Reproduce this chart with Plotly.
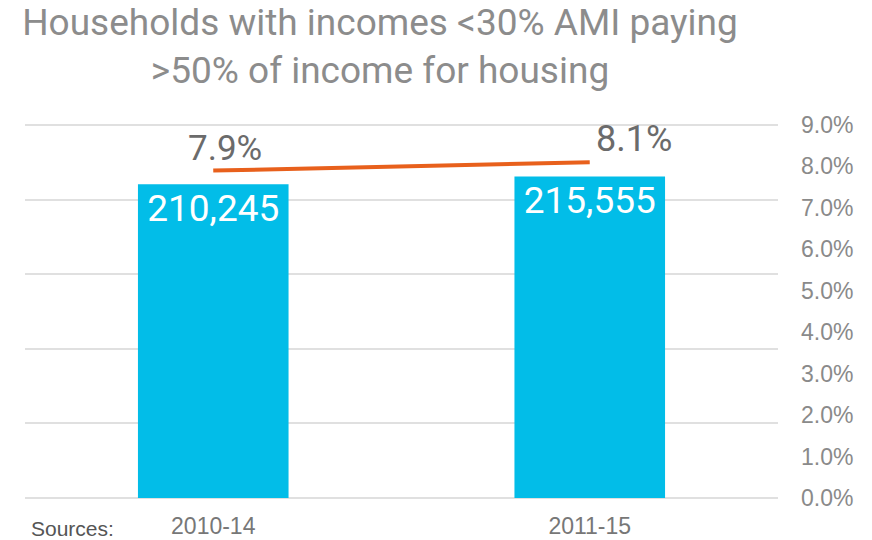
import plotly.graph_objects as go

categories = ["2010-14", "2011-15"]
households = [210245, 215555]
household_labels = ["210,245", "215,555"]
share = [0.079, 0.081]
share_labels = ["7.9%", "8.1%"]
count_ticks = [0, 50000, 100000, 150000, 200000, 250000]
pct_ticks = [0, 0.01, 0.02, 0.03, 0.04, 0.05, 0.06, 0.07, 0.08, 0.09]
pct_tick_text = ["0.0%", "1.0%", "2.0%", "3.0%", "4.0%", "5.0%", "6.0%", "7.0%", "8.0%", "9.0%"]

W, H = 864, 532  # page body adds an 8px offset
L, R, T, B = 17, 94, 114, 39
PAD = 2000  # small range padding so the edge gridlines are drawn

fig = go.Figure()
fig.add_trace(go.Bar(
    x=categories, y=households, text=household_labels,
    textposition="inside", insidetextanchor="end",
    textfont=dict(family="Roboto", size=37, color="white"),
    marker=dict(color="#02BDE8", line=dict(width=0)),
    cliponaxis=False, showlegend=False, hoverinfo="skip",
))
fig.add_trace(go.Scatter(
    x=categories, y=share, yaxis="y2", mode="lines",
    line=dict(color="#E8601C", width=4),
    showlegend=False, hoverinfo="skip",
))
fig.add_annotation(x=categories[0], y=share[0], xref="x", yref="y2", text=share_labels[0],
                   showarrow=False, xanchor="center", yanchor="bottom", xshift=12, yshift=0,
                   font=dict(family="Roboto", size=35, color="#6b6b6b"))
fig.add_annotation(x=categories[1], y=share[1], xref="x", yref="y2", text=share_labels[1],
                   showarrow=False, xanchor="left", yanchor="bottom", xshift=4, yshift=0,
                   font=dict(family="Roboto", size=36, color="#6b6b6b"))
fig.add_annotation(x=4/753, y=-27/379, xref="paper", yref="paper", text="Sources:",
                   showarrow=False, xanchor="left", yanchor="middle",
                   font=dict(family="Liberation Sans", size=21, color="#555555"))

fig.update_layout(
    width=W, height=H,
    margin=dict(l=L, r=R, t=T, b=B, autoexpand=False),
    paper_bgcolor="white", plot_bgcolor="white",
    bargap=0.6,
    title=dict(text="Households with incomes <30% AMI paying<br>>50% of income for housing",
               x=372/W, xanchor="center", y=1 - 27/H, yanchor="top",
               font=dict(family="Roboto", size=37, color="#8c8c8c")),
    xaxis=dict(showgrid=False, showline=False, ticks="", automargin=False,
               tickfont=dict(family="Liberation Sans", size=23, color="#777777"),
               ticklabelstandoff=9),
    yaxis=dict(range=[-PAD, 250000 + PAD], tickvals=count_ticks,
               showticklabels=False, showgrid=True,
               gridcolor="#e0e0e0", gridwidth=1.5, zeroline=False, showline=False,
               automargin=False),
    yaxis2=dict(range=[-0.09 * PAD / 250000, 0.09 + 0.09 * PAD / 250000], overlaying="y",
                side="right", tickvals=pct_ticks,
                ticktext=pct_tick_text, showgrid=False, zeroline=False, showline=False,
                automargin=False,
                tickfont=dict(family="Liberation Sans", size=23, color="#8a8a8a"),
                ticklabelstandoff=22),
)

fig.write_html("out.html")
